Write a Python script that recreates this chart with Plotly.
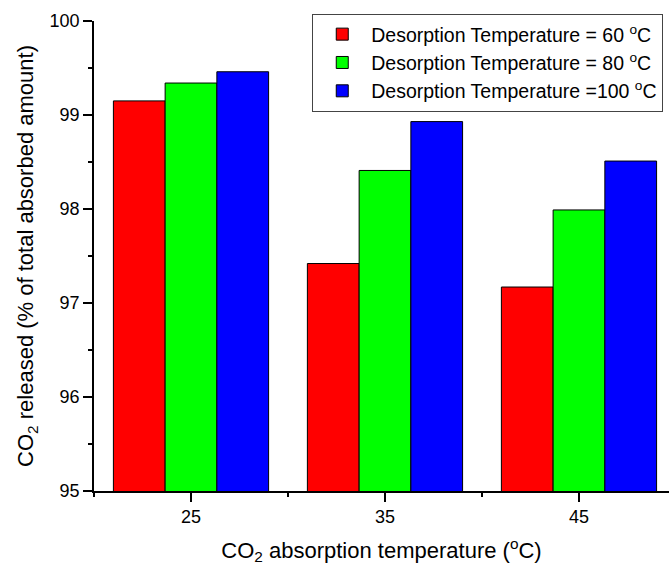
import plotly.graph_objects as go

absorption_temps = [25, 35, 45]
series_names = [
    "Desorption Temperature = 60 <sup>o</sup>C",
    "Desorption Temperature = 80 <sup>o</sup>C",
    "Desorption Temperature =100 <sup>o</sup>C",
]
released_60 = [99.15, 97.42, 97.17]
released_80 = [99.34, 98.41, 97.99]
released_100 = [99.46, 98.93, 98.51]
colors = ["#FF0000", "#00FF00", "#0000FF"]

font_family = "Arial, Liberation Sans, sans-serif"

fig = go.Figure()
for name, vals, col in zip(series_names, [released_60, released_80, released_100], colors):
    fig.add_trace(go.Bar(
        x=absorption_temps, y=vals, name=name,
        marker=dict(color=col, line=dict(color="black", width=1)),
    ))

fig.update_layout(
    width=669, height=568,
    margin=dict(l=94, r=0, t=21, b=77),
    plot_bgcolor="white", paper_bgcolor="white",
    barmode="group", bargap=0.2, bargroupgap=0,
    font=dict(family=font_family, color="black", size=18),
    legend=dict(
        x=0.99, y=1.015, xanchor="right", yanchor="top",
        bgcolor="white", bordercolor="#444", borderwidth=1,
        font=dict(size=19.5, family=font_family),
        itemwidth=48,
        tracegroupgap=0,
    ),
    xaxis=dict(
        range=[20, 49.64],
        tickvals=absorption_temps, ticktext=[str(t) for t in absorption_temps],
        ticks="outside", ticklen=9, tickwidth=1.5, tickcolor="black",
        showline=True, linecolor="black", linewidth=1.5,
        showgrid=False, zeroline=False,
        minor=dict(tickvals=[20, 30, 40], ticks="outside", ticklen=4, tickwidth=1.5, tickcolor="black", showgrid=False),
        tickfont=dict(size=18),
        title=dict(text="CO<sub>2</sub> absorption temperature (<sup>o</sup>C)", font=dict(size=22), standoff=16),
    ),
    yaxis=dict(
        range=[95, 100],
        tick0=95, dtick=1,
        ticks="outside", ticklen=9, tickwidth=1.5, tickcolor="black",
        showline=True, linecolor="black", linewidth=1.5,
        showgrid=False, zeroline=False,
        minor=dict(tick0=95, dtick=0.5, ticks="outside", ticklen=4, tickwidth=1.5, tickcolor="black", showgrid=False),
        tickfont=dict(size=18),
        title=dict(text="CO<sub>2</sub> released (% of total absorbed amount)", font=dict(size=22), standoff=10),
    ),
)

fig.write_html("out.html")
